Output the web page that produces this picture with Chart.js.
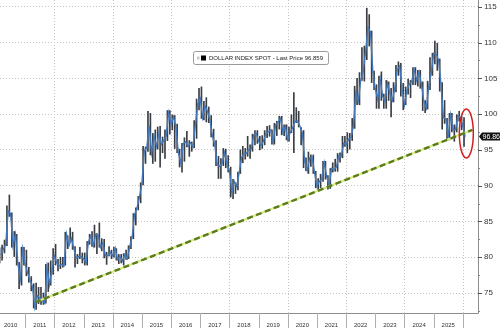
<!DOCTYPE html>
<html>
<head>
<meta charset="utf-8">
<script src="https://cdn.jsdelivr.net/npm/chart.js@4.4.1/dist/chart.umd.min.js"></script>
<style>
  html, body { margin: 0; padding: 0; background: #ffffff; }
  #wrap { width: 500px; height: 328px; }
</style>
</head>
<body>
<div id="wrap"><canvas id="c" width="500" height="328"></canvas></div>
<script>
// Dollar Index spot, monthly bars: Feb 2010 .. Jan 2026
const firstYear = 2010;
const firstMonth = 2;

const closeVals = [
  80.3, 81.1, 81.8, 86.5, 86.1, 81.6, 83.2, 79.1, 77.0, 81.2, 79.0,
  77.8, 76.8, 75.9, 73.0, 74.6, 74.3, 74.0, 73.6, 78.6, 76.2, 78.2, 80.2,
  79.2, 78.8, 79.0, 78.8, 83.2, 81.6, 82.6, 81.2, 79.9, 80.1, 80.1, 79.8,
  79.2, 82.1, 83.0, 81.6, 83.2, 83.1, 81.4, 82.0, 80.2, 80.2, 80.7, 80.2,
  81.3, 79.7, 80.1, 79.5, 80.4, 79.8, 81.5, 82.8, 86.0, 86.9, 88.4, 90.3,
  94.8, 95.3, 98.4, 94.6, 96.9, 95.5, 97.3, 95.8, 96.3, 96.9, 100.2, 98.6,
  99.6, 98.2, 94.6, 93.1, 95.9, 96.1, 95.5, 96.0, 95.4, 98.4, 101.5, 102.2,
  99.5, 101.1, 100.4, 99.1, 97.0, 95.6, 92.9, 92.7, 93.1, 94.6, 93.0, 92.1,
  89.1, 90.6, 89.9, 91.8, 93.9, 94.5, 94.5, 95.1, 95.1, 97.1, 97.3, 96.2,
  95.6, 96.2, 97.3, 97.5, 97.8, 96.1, 98.5, 98.9, 99.4, 97.4, 98.3, 96.4,
  97.4, 98.1, 99.0, 99.0, 98.3, 97.4, 93.3, 92.1, 93.9, 94.0, 91.9, 89.9,
  90.6, 90.9, 93.2, 91.3, 90.0, 92.4, 92.2, 92.6, 94.2, 94.1, 95.9, 95.7,
  96.5, 96.7, 98.3, 103.0, 101.8, 104.7, 105.9, 108.7, 112.1, 111.5, 105.9, 103.5,
  102.1, 104.9, 102.5, 101.7, 104.3, 102.9, 101.9, 103.6, 106.2, 106.7, 103.5, 101.3,
  103.3, 104.2, 104.5, 106.2, 104.7, 105.9, 104.1, 101.7, 100.8, 104.0, 105.7, 108.5,
  108.4, 107.6, 104.2, 99.5, 99.3, 96.9, 99.9, 97.8, 97.8, 99.8, 99.5, 98.3,
  96.859
];

const highVals = [
  81.3, 81.7, 82.4, 87.2, 88.7, 86.2, 83.6, 83.2, 79.3, 81.4, 81.4,
  81.0, 78.6, 77.3, 76.3, 76.4, 75.8, 75.8, 75.0, 79.0, 79.2, 79.5, 81.2,
  81.8, 79.7, 80.0, 80.0, 83.5, 83.0, 84.1, 83.5, 81.5, 80.4, 81.4, 80.6,
  80.6, 82.2, 83.2, 83.6, 84.5, 83.3, 84.8, 82.6, 82.5, 80.7, 81.5, 81.0,
  81.4, 81.2, 80.4, 80.4, 80.5, 81.0, 81.6, 82.9, 86.1, 86.9, 88.5, 90.4,
  95.5, 95.4, 100.4, 100.1, 97.3, 97.8, 98.2, 98.3, 96.8, 97.8, 100.5, 100.5,
  99.9, 99.8, 98.6, 95.1, 95.9, 96.7, 97.6, 96.3, 96.1, 99.1, 102.1, 103.6,
  103.8, 101.8, 102.3, 101.0, 99.8, 97.9, 96.3, 94.1, 93.8, 95.2, 95.1, 94.2,
  92.6, 90.9, 90.4, 91.9, 95.0, 95.5, 95.2, 96.9, 95.7, 97.2, 97.7, 97.7,
  96.9, 97.0, 97.7, 98.3, 98.4, 97.8, 98.7, 99.0, 99.7, 99.7, 98.5, 98.5,
  98.2, 99.9, 103.0, 100.9, 100.4, 98.1, 97.7, 93.9, 94.7, 94.3, 94.3, 92.0,
  91.0, 91.6, 93.4, 93.4, 91.4, 92.4, 93.2, 93.7, 94.5, 94.6, 96.9, 96.9,
  97.4, 97.3, 99.4, 103.9, 105.0, 105.8, 109.3, 109.5, 114.8, 113.9, 111.6, 106.0,
  104.1, 105.3, 105.9, 102.8, 104.7, 104.5, 103.6, 104.4, 106.8, 107.3, 107.1, 104.3,
  103.8, 104.9, 104.7, 106.5, 106.5, 106.1, 106.1, 104.5, 101.9, 104.6, 107.9, 108.5,
  110.2, 109.9, 107.7, 104.4, 101.9, 99.4, 100.1, 100.1, 98.5, 99.9, 100.4, 99.7,
  99.5
];

const lowVals = [
  79.2, 79.6, 80.6, 81.6, 85.7, 81.4, 80.1, 78.9, 75.6, 76.1, 78.9,
  77.4, 76.5, 75.3, 72.9, 72.7, 73.5, 73.4, 73.4, 73.6, 75.2, 76.1, 77.6,
  78.9, 78.1, 78.4, 78.6, 78.9, 81.2, 82.1, 81.1, 78.6, 79.1, 79.8, 79.2,
  78.9, 78.9, 81.8, 81.5, 81.4, 80.5, 81.4, 80.9, 79.9, 79.0, 80.2, 79.8,
  80.0, 79.6, 79.1, 79.2, 78.9, 79.7, 79.8, 81.2, 82.6, 84.5, 86.6, 87.6,
  90.1, 93.1, 94.8, 94.3, 93.1, 93.4, 95.1, 92.6, 94.6, 93.8, 96.3, 97.2,
  97.8, 95.2, 94.6, 92.6, 91.9, 93.4, 95.4, 94.1, 94.8, 95.3, 96.6, 100.6,
  99.4, 99.2, 98.9, 98.8, 96.8, 95.5, 92.8, 91.0, 91.0, 92.8, 92.5, 91.9,
  88.4, 88.2, 88.9, 89.4, 91.7, 93.2, 93.7, 94.1, 93.8, 94.8, 95.7, 95.9,
  95.0, 95.2, 95.7, 96.7, 96.9, 95.8, 95.8, 97.0, 97.9, 97.1, 97.0, 96.4,
  96.2, 97.4, 94.6, 98.8, 98.2, 95.7, 92.5, 92.1, 91.7, 92.7, 91.7, 89.7,
  89.4, 89.7, 90.6, 90.9, 89.5, 89.6, 91.9, 92.0, 92.0, 93.3, 93.9, 95.5,
  94.6, 95.1, 96.3, 98.0, 101.3, 101.3, 104.7, 104.6, 107.6, 109.5, 104.4, 103.4,
  100.8, 100.8, 101.9, 100.8, 100.8, 101.9, 99.6, 101.7, 103.1, 105.4, 102.5, 100.6,
  101.3, 102.8, 102.3, 104.1, 104.1, 103.9, 103.6, 100.5, 100.2, 100.7, 103.4, 105.4,
  107.0, 106.1, 103.2, 97.9, 98.7, 96.4, 96.4, 97.5, 96.2, 97.5, 99.0, 97.8,
  95.5
];

const yearLabels = [2010, 2011, 2012, 2013, 2014, 2015, 2016, 2017,
                    2018, 2019, 2020, 2021, 2022, 2023, 2024, 2025];
const yearBreaks = [2011, 2012, 2013, 2014, 2015, 2016, 2017, 2018,
                    2019, 2020, 2021, 2022, 2023, 2024, 2025, 2026];
const gridYears = [2012, 2014, 2016, 2018, 2020, 2022, 2024, 2026];
const yTickVals = [75, 80, 85, 90, 95, 100, 105, 110, 115];
const yMinorVals = [72.5, 77.5, 82.5, 87.5, 92.5, 97.5, 102.5, 107.5, 112.5];

// Support line from the 2011 low to the latest lows
const trendX = [2011.34, 2026.33];
const trendY = [73.7, 97.8];

const seriesName = 'DOLLAR INDEX SPOT';
const lastPriceText = '96.859';
const tagText = '96.860';
const circleAt = { x: 2026.12, y: 97.3 };

// month-end position for closes, mid-month for the high/low bars
const closePts = closeVals.map((v, i) => ({ x: firstYear + (firstMonth + i) / 12, y: v }));
const rangePts = highVals.map((h, i) => ({ x: firstYear + (firstMonth + i - 0.5) / 12, y: [lowVals[i], h] }));
const trendPts = trendX.map((x, i) => ({ x, y: trendY[i] }));

const FONT = '"Liberation Sans", Arial, sans-serif';

const overlay = {
  id: 'overlay',
  beforeDatasetsDraw(chart) {
    const { ctx, chartArea: a, scales: { x } } = chart;
    ctx.save();
    ctx.strokeStyle = '#c4c4c4';
    ctx.lineWidth = 1;
    ctx.setLineDash([1, 2]);
    gridYears.forEach(yr => {
      const px = Math.round(x.getPixelForValue(yr)) + 0.5;
      if (px < a.left || px > a.right) return;
      ctx.beginPath();
      ctx.moveTo(px, a.top);
      ctx.lineTo(px, a.bottom);
      ctx.stroke();
    });
    ctx.restore();
  },
  afterDraw(chart) {
    const { ctx, chartArea: a, scales: { x, y } } = chart;
    ctx.save();
    ctx.setLineDash([]);

    // axis lines
    ctx.strokeStyle = '#8c8c8c';
    ctx.lineWidth = 1;
    ctx.beginPath();
    ctx.moveTo(a.left, a.bottom + 0.5);
    ctx.lineTo(a.right + 0.5, a.bottom + 0.5);
    ctx.moveTo(a.right + 0.5, a.top);
    ctx.lineTo(a.right + 0.5, a.bottom + 0.5);
    ctx.stroke();

    // year separators under the axis
    ctx.strokeStyle = '#b0b0b0';
    yearBreaks.forEach(yr => {
      const px = Math.round(x.getPixelForValue(yr)) + 0.5;
      ctx.beginPath();
      ctx.moveTo(px, a.bottom);
      ctx.lineTo(px, chart.height);
      ctx.stroke();
    });

    // value-axis tick marks
    ctx.strokeStyle = '#555';
    yTickVals.forEach(v => {
      const py = Math.round(y.getPixelForValue(v)) + 0.5;
      ctx.beginPath();
      ctx.moveTo(a.right, py);
      ctx.lineTo(a.right + 4, py);
      ctx.stroke();
    });
    ctx.strokeStyle = '#888';
    yMinorVals.forEach(v => {
      const py = Math.round(y.getPixelForValue(v)) + 0.5;
      ctx.beginPath();
      ctx.moveTo(a.right, py);
      ctx.lineTo(a.right + 2, py);
      ctx.stroke();
    });

    // legend box
    ctx.font = '6px ' + FONT;
    const label = seriesName + ' - Last Price ' + lastPriceText;
    const tw = ctx.measureText(label).width;
    const bx = 193.5, by = 51.5, bh = 13, bw = tw + 21;
    ctx.fillStyle = '#ffffff';
    ctx.strokeStyle = '#9a9a9a';
    ctx.beginPath();
    ctx.roundRect(bx, by, bw, bh, 2);
    ctx.fill();
    ctx.stroke();
    ctx.fillStyle = '#c8c8c8';
    ctx.fillRect(bx + 3.5, by + 5, 2.5, 3);
    ctx.fillStyle = '#000000';
    ctx.fillRect(bx + 7.5, by + 4, 5, 5);
    ctx.fillStyle = '#222222';
    ctx.textBaseline = 'middle';
    ctx.textAlign = 'left';
    ctx.fillText(label, bx + 15.5, by + bh / 2 + 0.5);

    // last-price tag
    const ty = y.getPixelForValue(closeVals[closeVals.length - 1]);
    ctx.fillStyle = '#111111';
    ctx.beginPath();
    ctx.moveTo(a.right + 1, ty);
    ctx.lineTo(a.right + 4, ty - 4);
    ctx.lineTo(chart.width, ty - 4);
    ctx.lineTo(chart.width, ty + 4);
    ctx.lineTo(a.right + 4, ty + 4);
    ctx.closePath();
    ctx.fill();
    ctx.fillStyle = '#ffffff';
    ctx.font = '7px ' + FONT;
    ctx.fillText(tagText, a.right + 4.5, ty + 0.5);

    // red ring around the latest move
    ctx.strokeStyle = '#d11f1f';
    ctx.lineWidth = 1.5;
    ctx.beginPath();
    ctx.ellipse(x.getPixelForValue(circleAt.x), y.getPixelForValue(circleAt.y), 7, 24.5, 0, 0, Math.PI * 2);
    ctx.stroke();
    ctx.restore();
  }
};

new Chart(document.getElementById('c'), {
  type: 'bar',
  data: {
    datasets: [
      {
        type: 'bar',
        data: rangePts,
        backgroundColor: 'rgba(24,28,36,0.85)',
        borderWidth: 0,
        barThickness: 1,
        order: 4
      },
      {
        type: 'line',
        data: closePts,
        borderColor: '#4379bb',
        borderWidth: 1.4,
        pointRadius: 0,
        tension: 0,
        order: 3
      },
      {
        type: 'line',
        data: trendPts,
        borderColor: '#d9eb80',
        borderWidth: 2.2,
        pointRadius: 0,
        order: 2
      },
      {
        type: 'line',
        data: trendPts,
        borderColor: '#5b7c1e',
        borderWidth: 2.4,
        borderDash: [6, 3.5],
        pointRadius: 0,
        order: 1
      }
    ]
  },
  options: {
    responsive: false,
    devicePixelRatio: 1,
    animation: false,
    layout: { padding: 0 },
    plugins: { legend: { display: false }, tooltip: { enabled: false } },
    scales: {
      x: {
        type: 'linear',
        min: 2010.137,
        max: 2026.52,
        offset: false,
        grid: { display: false, drawTicks: false, tickLength: 0, offset: false },
        border: { display: false },
        afterBuildTicks: s => { s.ticks = yearLabels.map(yr => ({ value: yr + 0.5 })); },
        afterFit: s => { s.height = 15; s.paddingLeft = 0; s.paddingRight = 0; },
        ticks: {
          autoSkip: false,
          maxRotation: 0,
          padding: 9,
          color: '#333',
          font: { size: 6, family: FONT },
          callback: v => String(Math.floor(v))
        }
      },
      y: {
        position: 'right',
        min: 72.21,
        max: 115.94,
        grid: { color: '#c4c4c4', lineWidth: 1, drawTicks: false },
        border: { display: false, dash: [1, 2] },
        afterBuildTicks: s => { s.ticks = yTickVals.map(v => ({ value: v })); },
        afterFit: s => { s.width = 22; s.paddingTop = 0; s.paddingBottom = 0; },
        ticks: {
          padding: 6,
          color: '#333',
          font: { size: 8, family: FONT }
        }
      }
    }
  },
  plugins: [overlay]
});
</script>
</body>
</html>
